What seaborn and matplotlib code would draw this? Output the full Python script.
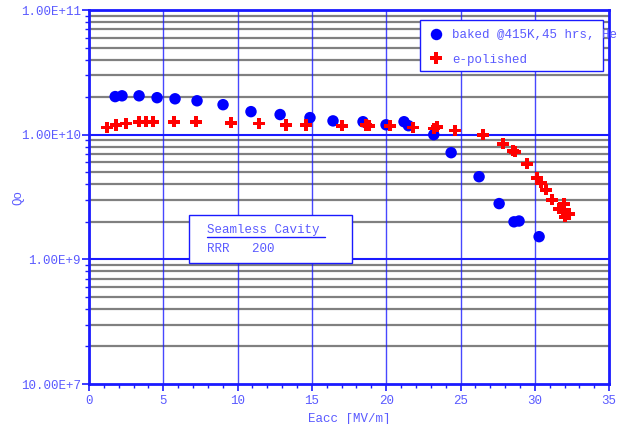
import numpy as np
import pandas as pd
import matplotlib.pyplot as plt
import matplotlib.ticker as mticker
from matplotlib.patches import Rectangle
import seaborn as sns

# baked @415K data
baked_e = [1.76, 2.22, 3.37, 4.58, 5.79, 7.27, 9.02, 10.9, 12.86, 14.87, 16.42,
           18.44, 19.99, 21.2, 21.5, 23.2, 24.37, 26.25, 27.6, 28.6, 28.94, 30.29]
baked_q = [2.02e10, 2.05e10, 2.05e10, 1.98e10, 1.94e10, 1.87e10, 1.74e10, 1.53e10,
           1.45e10, 1.37e10, 1.29e10, 1.27e10, 1.20e10, 1.27e10, 1.18e10, 1.00e10,
           7.17e9, 4.6e9, 2.8e9, 2.0e9, 2.03e9, 1.52e9]

# e-polished data
ep_e = [1.21, 1.82, 2.49, 3.37, 3.84, 4.31, 5.72, 7.2, 9.56, 11.44, 13.26, 14.6,
        17.03, 18.64, 18.85, 20.26, 21.8, 23.22, 23.42, 24.63, 26.52, 27.87,
        28.54, 28.68, 29.48, 30.15, 30.42, 30.76, 31.16, 31.63, 31.97, 31.9,
        32.04, 32.31, 32.17]
ep_q = [1.14e10, 1.2e10, 1.23e10, 1.27e10, 1.27e10, 1.27e10, 1.27e10, 1.27e10,
        1.25e10, 1.23e10, 1.2e10, 1.2e10, 1.18e10, 1.2e10, 1.18e10, 1.18e10,
        1.14e10, 1.12e10, 1.16e10, 1.08e10, 1.0e10, 8.47e9, 7.44e9, 7.3e9,
        5.85e9, 4.52e9, 4.12e9, 3.62e9, 3.01e9, 2.55e9, 2.8e9, 2.41e9, 2.2e9,
        2.32e9, 2.32e9]

baked_label = "baked @415K,45 hrs, He"
ep_label = "e-polished"
y_ticks = [1e8, 1e9, 1e10, 1e11]
y_ticklabels = ["10.00E+7", "1.00E+9", "1.00E+10", "1.00E+11"]
x_ticks = [0, 5, 10, 15, 20, 25, 30, 35]

df = pd.DataFrame({
    "Eacc": baked_e + ep_e,
    "Qo": baked_q + ep_q,
    "series": [baked_label] * len(baked_e) + [ep_label] * len(ep_e),
})

sns.set_style("white")
plt.rcParams["font.family"] = ["Liberation Mono", "DejaVu Sans Mono"]
txt = "#5a5aff"
blue = "#1a1aff"

fig = plt.figure(figsize=(6.19, 4.24), dpi=100)
ax = fig.add_axes([0.1438, 0.0943, 0.8402, 0.8821])

ax.set_yscale("log")
ax.set_xlim(0, 35)
ax.set_ylim(1e8, 1e11)

# grid lines
for dec in [1e8, 1e9, 1e10]:
    for m in range(2, 10):
        ax.axhline(dec * m, color="#808080", lw=1.6, zorder=1)
for dec in [1e9, 1e10]:
    ax.axhline(dec, color=blue, lw=1.5, zorder=1)
for xv in [5, 10, 15, 20, 25, 30]:
    ax.axvline(xv, color=blue, lw=1, alpha=0.8, zorder=1)

sns.scatterplot(data=df, x="Eacc", y="Qo", hue="series", style="series",
                palette={baked_label: "#0000ff", ep_label: "#ff0000"},
                markers={baked_label: "o", ep_label: "P"},
                s=68, edgecolor="none", linewidth=0, ax=ax, zorder=3)

for sp in ax.spines.values():
    sp.set_color(blue)
    sp.set_linewidth(2)

ax.set_xticks(x_ticks)
ax.set_xticklabels([str(v) for v in x_ticks])
ax.xaxis.set_minor_locator(mticker.MultipleLocator(1))
ax.set_yticks(y_ticks)
ax.set_yticklabels(y_ticklabels)
ax.yaxis.set_minor_locator(mticker.LogLocator(base=10, subs=np.arange(2, 10)))
ax.yaxis.set_minor_formatter(mticker.NullFormatter())
ax.tick_params(axis="both", which="both", direction="out", colors=blue,
               labelcolor=txt, labelsize=9, bottom=True, left=True, pad=1)
ax.tick_params(axis="both", which="major", length=5, width=1.2)
ax.tick_params(axis="both", which="minor", length=3, width=1)
ax.tick_params(axis="x", which="major", pad=3)

ax.set_xlabel("Eacc [MV/m]", color=txt, fontsize=9)
ax.set_ylabel("Qo", color=txt, fontsize=9)
ax.yaxis.set_label_coords(-0.125, 0.5)

# legend with a fixed frame (text runs past it like in the original)
leg = ax.legend(loc="upper left", bbox_to_anchor=(0.636, 0.972), borderaxespad=0,
                frameon=False, fontsize=9, labelspacing=1.0,
                handlelength=1.2, handletextpad=0.7, borderpad=0.7)
for t in leg.get_texts():
    t.set_color(txt)
ax.add_patch(Rectangle((0.6365, 0.837), 0.352, 0.136, transform=ax.transAxes,
                       facecolor="white", edgecolor=blue, lw=1, zorder=4))
leg.set_zorder(6)

# text box
ax.add_patch(Rectangle((0.192, 0.3235), 0.313, 0.128, transform=ax.transAxes,
                       facecolor="white", edgecolor=blue, lw=1, zorder=4))
ax.text(0.227, 0.395, "Seamless Cavity", transform=ax.transAxes, color=txt,
        fontsize=9, va="bottom", zorder=5)
ax.plot([0.227, 0.454], [0.393, 0.393], transform=ax.transAxes, color=blue,
        lw=1, zorder=5)
ax.text(0.227, 0.362, "RRR   200", transform=ax.transAxes, color=txt,
        fontsize=9, va="center", zorder=5)

fig.savefig("out.png", dpi=100)
